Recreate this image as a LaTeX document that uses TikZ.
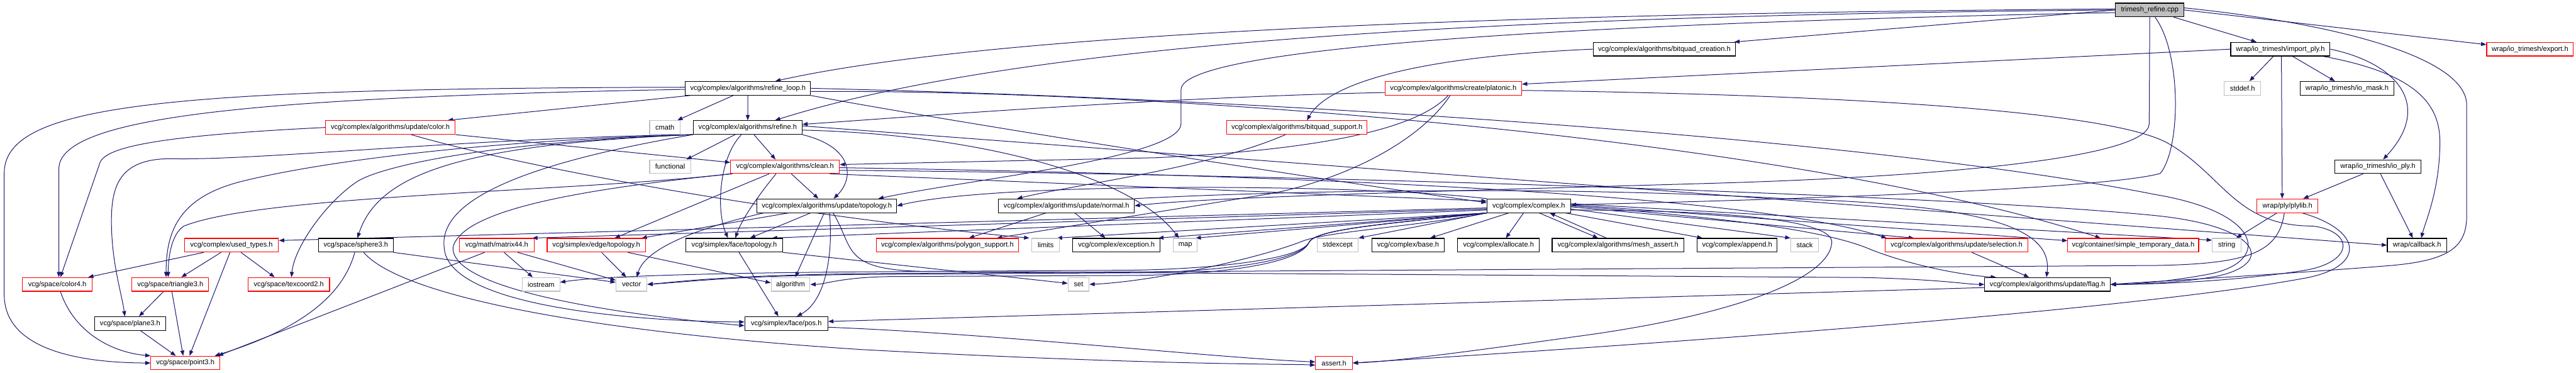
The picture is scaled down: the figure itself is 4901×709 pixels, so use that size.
\documentclass[tikz,border=0pt]{standalone}
\usepackage{fontspec}
\setmainfont{Liberation Sans}
\usetikzlibrary{arrows.meta}
\definecolor{edgec}{HTML}{191970}
\definecolor{lgray}{HTML}{BFBFBF}
\definecolor{nred}{HTML}{FF0000}
\pgfdeclarelayer{edges}
\pgfsetlayers{edges,main}
\tikzset{
  nd/.style={draw=black, line width=1.3pt, fill=white, rectangle, minimum height=26pt, inner sep=0pt, font=\fontsize{13.3}{15}\selectfont, text=black},
  nr/.style={nd, draw=nred},
  ng/.style={nd, draw=lgray},
  dep/.style={draw=edgec, line width=1.2pt, line join=round, -{Triangle[length=10pt,width=7.5pt]}}
}
\begin{document}
\begin{tikzpicture}[x=1pt,y=-1pt]
\useasboundingbox (0,0) rectangle (4901,709);
% ---------- nodes ----------
\node[nd, fill=lgray, minimum width=130] (root) at (4090,19) {trimesh\_refine.cpp};
\node[nd, minimum width=271] (bqcreat) at (3166.5,93.5) {vcg/complex/algorithms/bitquad\_creation.h};
\node[nd, minimum width=189] (importply) at (4338.5,93.5) {wrap/io\_trimesh/import\_ply.h};
\node[nr, minimum width=165] (export) at (4813.5,93.5) {wrap/io\_trimesh/export.h};
\node[nd, minimum width=238] (refineloop) at (1423,168) {vcg/complex/algorithms/refine\_loop.h};
\node[nr, minimum width=260] (platonic) at (2765,168) {vcg/complex/algorithms/create/platonic.h};
\node[ng, minimum width=69] (stddef) at (4266.5,168) {stddef.h};
\node[nd, minimum width=179] (iomask) at (4465.5,168) {wrap/io\_trimesh/io\_mask.h};
\node[nr, minimum width=247] (updcolor) at (742.5,242.5) {vcg/complex/algorithms/update/color.h};
\node[ng, minimum width=58] (cmath) at (1265,242.5) {cmath};
\node[nd, minimum width=207] (refine) at (1422.5,242.5) {vcg/complex/algorithms/refine.h};
\node[nr, minimum width=267] (bqsupport) at (2467.5,242.5) {vcg/complex/algorithms/bitquad\_support.h};
\node[ng, minimum width=78] (functional) at (1275,317) {functional};
\node[nr, minimum width=207] (clean) at (1493.5,317) {vcg/complex/algorithms/clean.h};
\node[nd, minimum width=164] (ioply) at (4524,317) {wrap/io\_trimesh/io\_ply.h};
\node[nd, minimum width=266] (updtopo) at (1573,391.5) {vcg/complex/algorithms/update/topology.h};
\node[nd, minimum width=258] (updnormal) at (2029,391.5) {vcg/complex/algorithms/update/normal.h};
\node[nd, minimum width=159] (complex) at (2908.5,391.5) {vcg/complex/complex.h};
\node[nr, minimum width=116] (plylib) at (4352,391.5) {wrap/ply/plylib.h};
\node[nr, minimum width=179] (usedtypes) at (440.5,466.5) {vcg/complex/used\_types.h};
\node[nd, minimum width=142] (sphere3) at (677,466.5) {vcg/space/sphere3.h};
\node[nr, minimum width=142] (matrix44) at (945,466.5) {vcg/math/matrix44.h};
\node[nr, minimum width=187] (edgetopo) at (1134.5,466.5) {vcg/simplex/edge/topology.h};
\node[nd, minimum width=184] (facetopo) at (1397,466.5) {vcg/simplex/face/topology.h};
\node[nr, minimum width=271] (polysupport) at (1802.5,466.5) {vcg/complex/algorithms/polygon\_support.h};
\node[ng, minimum width=53] (limits) at (1989.5,466.5) {limits};
\node[nd, minimum width=166] (exception) at (2124,466.5) {vcg/complex/exception.h};
\node[ng, minimum width=46] (map) at (2255,466.5) {map};
\node[ng, minimum width=78] (stdexcept) at (2545,466.5) {stdexcept};
\node[nd, minimum width=138] (base) at (2679,466.5) {vcg/complex/base.h};
\node[nd, minimum width=156] (allocate) at (2851,466.5) {vcg/complex/allocate.h};
\node[nd, minimum width=251] (meshassert) at (3078.5,466.5) {vcg/complex/algorithms/mesh\_assert.h};
\node[nd, minimum width=152] (append) at (3305,466.5) {vcg/complex/append.h};
\node[ng, minimum width=53] (stack) at (3433.5,466.5) {stack};
\node[nr, minimum width=271] (selection) at (3722.5,466.5) {vcg/complex/algorithms/update/selection.h};
\node[nr, minimum width=249] (simpletemp) at (4058.5,466.5) {vcg/container/simple\_temporary\_data.h};
\node[ng, minimum width=55] (string) at (4236.5,466.5) {string};
\node[nd, minimum width=113] (callback) at (4598.5,466.5) {wrap/callback.h};
\node[nr, minimum width=132] (color4) at (109,541) {vcg/space/color4.h};
\node[nr, minimum width=146] (triangle3) at (324,541) {vcg/space/triangle3.h};
\node[nr, minimum width=155] (texcoord2) at (549.5,541) {vcg/space/texcoord2.h};
\node[ng, minimum width=71] (iostream) at (1029.5,541) {iostream};
\node[ng, minimum width=59] (vector) at (1201.5,541) {vector};
\node[ng, minimum width=74] (algorithm) at (1504,541) {algorithm};
\node[ng, minimum width=40] (set) at (2052,541) {set};
\node[nd, minimum width=239] (flag) at (3895.5,541) {vcg/complex/algorithms/update/flag.h};
\node[nd, minimum width=135] (plane3) at (247.5,615.5) {vcg/space/plane3.h};
\node[nd, minimum width=158] (pos) at (1496,615.5) {vcg/simplex/face/pos.h};
\node[nr, minimum width=131] (point3) at (352.5,690.5) {vcg/space/point3.h};
\node[nr, minimum width=70] (assert) at (2538,690.5) {assert.h};
% ---------- edges ----------
\begin{pgfonlayer}{edges}
\fill[white] (0,0) rectangle (4901,709);
% root
\draw[dep] (root.west) -- ([xshift=-3pt]bqcreat.north east);
\draw[dep] (root) -- (importply);
\draw[dep] (root.east) -- ([yshift=-5pt]export.north west);
\draw[dep] ([yshift=2pt]root.west) .. controls (2900,25) and (1900,60) .. ([xshift=52pt]refineloop.north);
\draw[dep] (root.west) .. controls (2700,30) and (1900,95) .. ([xshift=52pt]refine.north);
\draw[dep] ([yshift=-5pt]root.west) .. controls (3200,40) and (2250,80) .. (2247,170) -- (2247,235) .. controls (2247,300) and (1850,340) .. ([xshift=98pt]updtopo.north);
\draw[dep] ([xshift=10pt]root.south) .. controls (4150,100) and (4150,280) .. (4110,330) .. controls (4000,360) and (3400,380) .. ([yshift=2pt]complex.east);
\draw[dep] (root.south) -- (4089,235) .. controls (4089,300) and (3700,335) .. (3280,348) .. controls (2700,365) and (2300,375) .. (updnormal.east);
\draw[dep] ([yshift=4pt]root.east) .. controls (4450,45) and (4693,110) .. (4693,200) -- (4693,410) .. controls (4693,470) and (4660,495) .. (4550,505) .. controls (4300,525) and (4100,535) .. (flag.east);
% import_ply
\draw[dep] (importply.west) -- ([yshift=8pt]platonic.east);
\draw[dep] (importply) -- (stddef);
\draw[dep] (importply) -- (iomask);
\draw[dep] (importply.east) .. controls (4560,120) and (4630,200) .. ([xshift=10pt]ioply.north);
\draw[dep] ([xshift=2pt]importply.south) -- ([xshift=-10pt]plylib.north);
\draw[dep] ([xshift=-14pt]importply.south east) .. controls (4600,140) and (4642,200) .. (4642,270) .. controls (4642,360) and (4615,420) .. ([xshift=8pt]callback.north);
% io_ply
\draw[dep] ([xshift=-28pt]ioply.south) -- ([xshift=30pt]plylib.north);
\draw[dep] ([xshift=5pt]ioply.south) -- ([xshift=-8pt]callback.north);
% plylib
\draw[dep] ([xshift=-20pt]plylib.south) -- ([xshift=18pt]string.north);
\draw[dep] ([xshift=28pt]plylib.south) .. controls (4500,440) and (4500,510) .. (4380,530) .. controls (4000,600) and (2900,670) .. (assert.east);
\draw[dep] ([xshift=-6pt]plylib.south) .. controls (4335,480) and (4280,502) .. (4100,505) -- (1700,520) .. controls (1400,522) and (1300,535) .. (vector.east);
% refine_loop
\draw[dep] ([xshift=-110pt]refineloop.south) -- ([xshift=-15pt]updcolor.north east);
\draw[dep] ([xshift=-28pt]refineloop.south) -- ([xshift=-6pt]cmath.north east);
\draw[dep] (refineloop) -- (refine);
\draw[dep] ([yshift=-2pt]refineloop.west) .. controls (500,185) and (115,220) .. (112,320) -- ([xshift=3pt]color4.north);
\draw[dep] ([yshift=2pt]refineloop.west) .. controls (300,168) and (8,200) .. (8,330) -- (8,560) .. controls (8,665) and (150,690) .. (point3.west);
\draw[dep] (refineloop.east) .. controls (2500,190) and (3600,270) .. (4100,370) .. controls (4310,405) and (4320,500) .. (4200,522) .. controls (4130,535) and (4060,541) .. (flag.east);
\draw[dep] ([yshift=-6pt]refineloop.east) .. controls (2200,170) and (3400,260) .. ([xshift=-62pt]simpletemp.north);
\draw[dep] (refineloop.south east) .. controls (1800,230) and (2500,340) .. ([yshift=6pt]complex.west);
% refine
\draw[dep] ([xshift=-24pt]refine.south) -- ([xshift=31pt]functional.north);
\draw[dep] ([xshift=12pt]refine.south) -- ([xshift=-18pt]clean.north);
\draw[dep] ([xshift=-12pt]refine.south) .. controls (1368,300) and (1362,400) .. ([xshift=-12pt]facetopo.north);
\draw[dep] (refine.south east) .. controls (1625,280) and (1625,340) .. ([xshift=13pt]updtopo.north);
\draw[dep] ([yshift=-5pt]refine.east) .. controls (1850,255) and (2150,330) .. ([xshift=-12pt]map.north);
\draw[dep] ([yshift=3pt]refine.east) -- (callback.west);
\draw[dep] (refine.south west) .. controls (900,262) and (500,305) .. (330,302) .. controls (230,300) and (212,350) .. (212,420) .. controls (212,500) and (232,560) .. ([xshift=-10pt]plane3.north);
\draw[dep] (refine.south west) .. controls (900,268) and (600,310) .. (460,345) .. controls (340,375) and (316,440) .. ([xshift=-8pt]triangle3.north);
\draw[dep] (refine.south west) .. controls (900,272) and (720,320) .. (680,345) .. controls (620,385) and (560,470) .. ([xshift=5pt]texcoord2.north);
\draw[dep] (refine.south west) .. controls (880,275) and (720,330) .. ([xshift=3pt]sphere3.north);
\draw[dep] (refine.south west) .. controls (1000,310) and (835,380) .. (845,470) .. controls (850,590) and (1250,612) .. ([yshift=3pt]pos.west);
% clean
\draw[dep] (clean.south west) .. controls (1100,365) and (500,370) .. (350,430) .. controls (326,445) and (320,490) .. ([xshift=-4pt]triangle3.north);
\draw[dep] ([xshift=4pt]clean.south west) .. controls (1100,360) and (880,400) .. (862,470) .. controls (855,560) and (1250,605) .. ([yshift=-4pt]pos.west);
\draw[dep] ([xshift=-30pt]clean.south) -- ([xshift=35pt]edgetopo.north);
\draw[dep] ([xshift=-17pt]clean.south) .. controls (1440,375) and (1410,420) .. ([xshift=2pt]facetopo.north);
\draw[dep] ([xshift=12pt]clean.south) -- ([xshift=-16pt]updtopo.north);
\draw[dep] ([xshift=-19pt]clean.south east) -- ([yshift=9pt]complex.west);
\draw[dep] ([yshift=-2pt]clean.east) .. controls (2300,330) and (3300,360) .. ([xshift=-133pt]selection.north);
\draw[dep] ([yshift=-7pt]clean.east) .. controls (2400,330) and (3700,370) .. (4100,410) .. controls (4300,430) and (4330,500) .. (4220,525) .. controls (4150,538) and (4070,541) .. (flag.east);
% update/color
\draw[dep] (updcolor.west) .. controls (300,258) and (200,280) .. (190,310) -- ([xshift=6pt]color4.north);
\draw[dep] ([xshift=40pt]updcolor.south) .. controls (1000,320) and (1500,410) .. ([xshift=-4pt]limits.north west);
\draw[dep] (updcolor.south east) -- ([yshift=8pt]clean.west);
% bitquad
\draw[dep] (bqcreat.west) .. controls (2650,110) and (2520,170) .. ([xshift=19pt]bqsupport.north);
\draw[dep] ([xshift=-22pt]bqsupport.south) .. controls (2300,320) and (2050,350) .. ([xshift=-94pt]updnormal.north);
% platonic
\draw[dep] ([yshift=-8pt]platonic.west) .. controls (2200,185) and (1700,225) .. ([yshift=6pt]refine.east);
\draw[dep] ([xshift=-10pt]platonic.south) .. controls (2680,265) and (2400,290) .. (2200,300) -- ([yshift=4pt]clean.east);
\draw[dep] ([xshift=-6pt]platonic.south) .. controls (2700,270) and (2560,340) .. (2420,368) -- ([xshift=94pt]polysupport.north);
\draw[dep] ([yshift=-4pt]platonic.east) .. controls (3500,180) and (4000,210) .. (4120,270) .. controls (4230,330) and (4250,430) .. (4400,430) .. controls (4480,440) and (4480,500) .. (4380,515) .. controls (4250,535) and (4100,541) .. (flag.east);
% complex
\draw[dep] (complex.south west) -- (stdexcept.north east);
\draw[dep] ([xshift=-38pt]complex.south) -- ([xshift=42pt]base.north);
\draw[dep] ([xshift=-10pt]complex.south) -- ([xshift=14pt]allocate.north);
\draw[dep] ([xshift=20pt]complex.south) -- ([xshift=-38pt]meshassert.north);
\draw[dep] ([xshift=-22pt]meshassert.north) -- ([xshift=40pt]complex.south);
\draw[dep] ([xshift=-10pt]complex.south east) -- ([xshift=-66pt]append.north);
\draw[dep] ([yshift=-6pt]complex.east) -- (stack.north west);
\draw[dep] ([yshift=-2pt]complex.east) -- ([xshift=-81pt]selection.north);
\draw[dep] ([yshift=2pt]complex.east) -- ([yshift=-5pt]simpletemp.north west);
\draw[dep] ([yshift=4pt]complex.east) -- ([yshift=-4pt]string.north west);
\draw[dep] (complex.east) .. controls (3300,415) and (3480,440) .. (3560,475) .. controls (3650,510) and (3750,525) .. ([xshift=-98pt]flag.north);
\draw[dep] ([yshift=-8pt]complex.east) .. controls (3300,400) and (3490,420) .. (3485,462) .. controls (3480,530) and (3300,600) .. (3000,640) .. controls (2800,668) and (2650,688) .. (assert.east);
\draw[dep] ([yshift=-4pt]complex.west) -- ([yshift=9pt]usedtypes.east);
\draw[dep] ([yshift=-6pt]complex.west) -- ([xshift=-4pt]matrix44.north east);
\draw[dep] ([yshift=-8pt]complex.west) -- ([xshift=-21pt]facetopo.north east);
\draw[dep] (complex.south west) -- ([xshift=-6pt]limits.north east);
\draw[dep] (complex.south west) -- ([xshift=-4pt]exception.north east);
\draw[dep] (complex.south west) -- ([xshift=-4pt]map.north east);
\draw[dep] (complex.south west) .. controls (2700,430) and (2530,440) .. (2480,458) .. controls (2400,490) and (2200,535) .. (set.east);
\draw[dep] (complex.south west) .. controls (2650,425) and (2500,435) .. (2490,462) .. controls (2470,495) and (2300,512) .. (2150,514) -- (1650,517) .. controls (1400,519) and (1150,524) .. ([yshift=4pt]iostream.east);
\draw[dep] (complex.south west) .. controls (2650,425) and (2500,435) .. (2490,462) .. controls (2470,500) and (2300,518) .. (2150,519) -- (1650,522) .. controls (1400,524) and (1300,537) .. (vector.east);
\draw[dep] (complex.south west) .. controls (2650,425) and (2500,435) .. (2490,462) .. controls (2470,505) and (2300,523) .. (2150,524) -- (1700,526) .. controls (1600,527) and (1570,541) .. (algorithm.east);
\draw[dep] (complex.north west) .. controls (2600,350) and (1900,345) .. (updtopo.east);
% update/normal
\draw[dep] ([xshift=-39pt]updnormal.south) -- ([xshift=41pt]polysupport.north);
\draw[dep] ([xshift=16pt]updnormal.south) -- ([xshift=-21pt]exception.north);
\draw[dep] (updnormal.north east) .. controls (2500,360) and (3000,355) .. (3400,378) .. controls (3800,390) and (3905,440) .. ([xshift=-2pt]flag.north);
% update/topology
\draw[dep] ([xshift=-31pt]updtopo.south) -- ([xshift=30pt]facetopo.north);
\draw[dep] ([xshift=-5pt]updtopo.south) -- ([xshift=9pt]algorithm.north);
\draw[dep] ([xshift=5pt]updtopo.south) .. controls (1585,470) and (1575,570) .. ([xshift=20pt]pos.north);
\draw[dep] ([xshift=-73pt]updtopo.south) -- ([xshift=-8pt]edgetopo.north east);
\draw[dep] ([xshift=-120pt]updtopo.south) .. controls (1300,440) and (1225,480) .. ([xshift=10pt]vector.north);
\draw[dep] ([xshift=12pt]updtopo.south) .. controls (1625,470) and (1600,512) .. (1750,516) -- (3550,528) .. controls (3700,532) and (3740,541) .. (flag.west);
% face / edge topology
\draw[dep] ([xshift=9pt]facetopo.south) -- ([xshift=-15pt]pos.north);
\draw[dep] (facetopo.south east) -- ([yshift=2pt]set.west);
\draw[dep] ([xshift=10pt]edgetopo.south) -- ([xshift=-10pt]vector.north);
\draw[dep] ([xshift=60pt]edgetopo.south) -- ([yshift=3pt]algorithm.west);
% matrix44
\draw[dep] ([xshift=14pt]matrix44.south) -- ([xshift=-16pt]iostream.north);
\draw[dep] ([xshift=40pt]matrix44.south) -- ([yshift=8pt]vector.west);
\draw[dep] ([xshift=-23pt]matrix44.south) -- ([xshift=-4pt]point3.north east);
% sphere3
\draw[dep] ([xshift=-2pt]sphere3.south) .. controls (650,570) and (560,630) .. ([xshift=-10pt]point3.north east);
\draw[dep] (sphere3.south east) -- ([yshift=4pt]vector.west);
\draw[dep] ([xshift=15pt]sphere3.south) .. controls (760,560) and (1100,630) .. (1640,665) .. controls (2200,695) and (2450,692) .. ([yshift=-4pt]assert.west);
% pos, flag, selection
\draw[dep] ([yshift=-7pt]pos.east) .. controls (1900,635) and (2300,680) .. ([yshift=2pt]assert.west);
\draw[dep] ([yshift=-6pt]flag.west) -- ([yshift=4pt]pos.east);
\draw[dep] ([xshift=29pt]selection.south) -- ([xshift=-35pt]flag.north);
% used_types
\draw[dep] ([xshift=-53pt]usedtypes.south) -- ([xshift=-8pt]color4.north east);
\draw[dep] ([xshift=-20pt]usedtypes.south) -- ([xshift=21pt]triangle3.north);
\draw[dep] ([xshift=18pt]usedtypes.south) -- ([xshift=-27pt]texcoord2.north);
\draw[dep] ([xshift=-3pt]usedtypes.south) -- ([xshift=8pt]point3.north);
% space
\draw[dep] ([xshift=6pt]color4.south) .. controls (140,630) and (210,670) .. (point3.north west);
\draw[dep] ([xshift=-13pt]triangle3.south) -- ([xshift=17pt]plane3.north);
\draw[dep] ([xshift=3pt]triangle3.south) -- ([xshift=-4pt]point3.north);
\draw[dep] ([xshift=20pt]plane3.south) -- ([xshift=-18pt]point3.north);
\end{pgfonlayer}
\end{tikzpicture}
\end{document}
